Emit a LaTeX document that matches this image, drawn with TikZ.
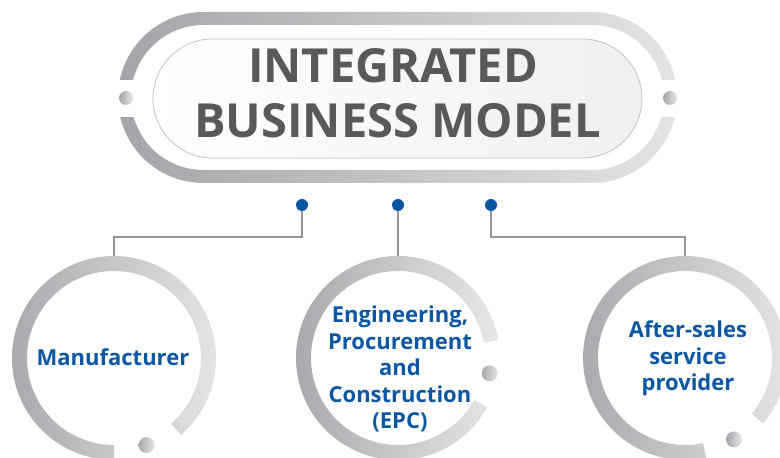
\documentclass[tikz,border=0pt]{standalone}
\usepackage{fontspec}
\setmainfont{Open Sans}
\usetikzlibrary{calc}
\definecolor{ringdark}{HTML}{A5A7AA}
\definecolor{ringlight}{HTML}{E6E7E8}
\definecolor{pilldark}{HTML}{A3A5A8}
\definecolor{pilllight}{HTML}{E3E4E5}
\definecolor{titlegray}{HTML}{58595B}
\definecolor{blueTxt}{HTML}{0B57A4}
\definecolor{blueDot}{HTML}{0A55A2}
\definecolor{lineGray}{HTML}{939598}
\definecolor{edgePink}{HTML}{C9BFC2}
\tikzset{
  conn/.style={draw=lineGray, line width=2pt},
  bluedot/.style={circle, fill=blueDot, minimum size=12pt, inner sep=0pt},
  graydot/.style={circle, left color=ringdark, right color=ringlight, minimum size=16pt, inner sep=0pt},
  pilldot/.style={circle, left color=ringdark, right color=ringlight, minimum size=14pt, inner sep=0pt},
  ringshade/.style={left color=ringdark, right color=ringlight},
  hub/.style={circle, minimum size=204pt, inner sep=0pt},
  circtext/.style={font=\bfseries\fontsize{22}{26.5}\selectfont, text=blueTxt, align=center, inner sep=0pt},
  titletext/.style={font=\bfseries\fontsize{47}{55}\selectfont, text=titlegray, inner sep=0pt, anchor=base}
}
\begin{document}
\begin{tikzpicture}[x=1pt,y=1pt]
\useasboundingbox (0,0) rectangle (780,458);
% title frame ring
\shade[even odd rule, left color=pilldark, right color=pilllight]
  (118,275) [rounded corners=85.5pt] rectangle (677,446)
  (131,288) [rounded corners=72.5pt] rectangle (664,433);
\fill[white] (110,341) rectangle (140,378);
\fill[white] (655,341) rectangle (685,378);
\node[pilldot] (pl) at (126,360) {};
\node[pilldot] (pr) at (670,360) {};
% inner pill
\shade[left color=white, right color=black!6, draw=edgePink, line width=0.8pt, rounded corners=59.5pt]
  (153,300) rectangle (642,419);
\node[titletext] (t1) at (393,375) {INTEGRATED};
\node[titletext] (t2) at (397.5,320) {BUSINESS MODEL};
% blue dots
\node[bluedot] (d1) at (302,253) {};
\node[bluedot] (d2) at (398,253) {};
\node[bluedot] (d3) at (491,253) {};
% hubs
\node[hub] (c1) at (114,100) {};
\node[hub] (c2) at (398,100) {};
\node[hub] (c3) at (685,100) {};
% rings
\shade[ringshade] ($(c1)+(-49:102)$) arc[start angle=-49, end angle=270, radius=102] -- ($(c1)+(270:87)$) arc[start angle=270, end angle=-49, radius=87] -- cycle;
\shade[ringshade] ($(c2)+(10:102)$) arc[start angle=10, end angle=331, radius=102] -- ($(c2)+(331:87)$) arc[start angle=331, end angle=10, radius=87] -- cycle;
\shade[ringshade] ($(c3)+(-40:102)$) arc[start angle=-40, end angle=282, radius=102] -- ($(c3)+(282:87)$) arc[start angle=282, end angle=-40, radius=87] -- cycle;
\node[graydot] (g1) at ($(c1)+(-69.5:93)$) {};
\node[graydot] (g2) at ($(c2)+(-9.5:93)$) {};
\node[graydot] (g3) at ($(c3)+(-59:95)$) {};
% connectors
\draw[conn] (d1) |- (114,221) -- (c1.north);
\draw[conn] (d2) -- (c2.north);
\draw[conn] (d3) |- (685,221) -- (c3.north);
% texts
\node[circtext] (m1) at (113,101) {Manufacturer};
\node[circtext] (m2) at (400,89) {Engineering,\\Procurement\\and\\Construction\\(EPC)};
\node[circtext] (m3) at (688,99.5) {After-sales\\service\\provider};
\end{tikzpicture}
\end{document}
